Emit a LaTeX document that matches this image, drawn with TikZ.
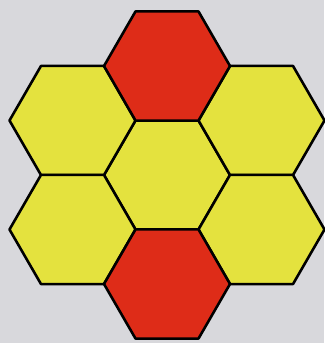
\documentclass[tikz,border=0pt]{standalone}
\usepackage{tikz}
\usetikzlibrary{shapes.geometric}

\definecolor{bggray}{RGB}{216,216,220}
\definecolor{hexred}{RGB}{222,44,24}
\definecolor{hexyellow}{RGB}{228,226,62}

\begin{document}
\begin{tikzpicture}[x=0.03cm, y=-0.03cm]
        % 定义样式
        \tikzstyle{cell} = [regular polygon, regular polygon sides=6, minimum size=3.78cm, inner sep=0pt, outer sep=0pt, draw=black, line width=2.2pt, line join=round]
        \tikzstyle{redcell} = [cell, fill=hexred]
        \tikzstyle{yellowcell} = [cell, fill=hexyellow]

        % 背景
        \fill[bggray] (0,0) rectangle (324,343);
        \useasboundingbox (0,0) rectangle (324,343);

        % 六边形
        \node (middle) [yellowcell] at (167,175) {};
        \node (upleft) [yellowcell] at (72.5,120.5) {};
        \node (downleft) [yellowcell] at (72.5,229.5) {};
        \node (upright) [yellowcell] at (261.5,120.5) {};
        \node (downright) [yellowcell] at (261.5,229.5) {};
        \node (top) [redcell] at (167,66) {};
        \node (bottom) [redcell] at (167,284) {};
\end{tikzpicture}
\end{document}
